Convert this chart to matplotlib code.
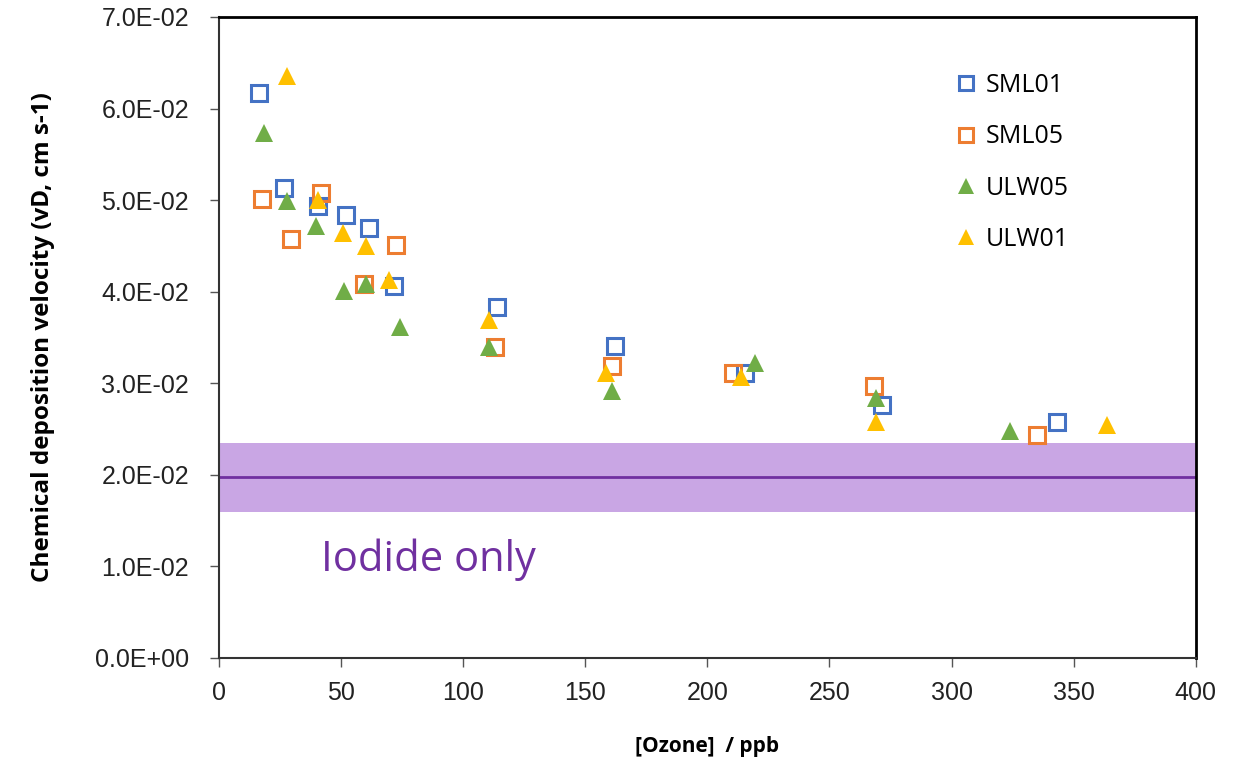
import matplotlib
matplotlib.use("Agg")
import matplotlib.pyplot as plt
from matplotlib.ticker import FuncFormatter

# [Ozone] / ppb and deposition velocity (cm s-1) per series
sml01_x = [16.4, 26.6, 40.5, 52.0, 61.4, 71.6, 113.8, 162.1, 215.4, 271.4, 343.1]
sml01_y = [0.0617, 0.0513, 0.0494, 0.0484, 0.0470, 0.0406, 0.0383, 0.0341, 0.0311, 0.0276, 0.0258]

sml05_x = [17.6, 29.5, 41.8, 59.4, 72.5, 113.0, 160.9, 210.4, 268.2, 334.9]
sml05_y = [0.0501, 0.0458, 0.0508, 0.0408, 0.0451, 0.0340, 0.0319, 0.0311, 0.0297, 0.0244]

ulw05_x = [18.4, 27.8, 39.7, 51.2, 60.2, 74.1, 110.5, 160.9, 219.4, 269.0, 323.9]
ulw05_y = [0.0573, 0.0499, 0.0472, 0.0401, 0.0408, 0.0361, 0.0340, 0.0292, 0.0322, 0.0284, 0.0248]

ulw01_x = [27.8, 40.5, 50.8, 60.2, 69.6, 110.5, 158.4, 213.7, 269.0, 363.6]
ulw01_y = [0.0636, 0.0500, 0.0464, 0.0450, 0.0413, 0.0369, 0.0311, 0.0307, 0.0258, 0.0254]

iodide_mean = 0.0198
iodide_low = 0.0159
iodide_high = 0.0235

fig = plt.figure(figsize=(12.43, 7.71), dpi=100)
ax = fig.add_axes([0.176, 0.1466, 0.786, 0.8314])

ax.axhspan(iodide_low, iodide_high, color="#c9a6e4", zorder=1, lw=0)
ax.axhline(iodide_mean, color="#7030a0", lw=2, zorder=2)
ax.text(42, 0.0107, "Iodide only", color="#7030a0", fontsize=30,
        family="Open Sans", va="center", ha="left")

sq = dict(marker="s", ls="none", markersize=11, markerfacecolor="none",
          markeredgewidth=2.2, zorder=3)
tri = dict(marker="^", ls="none", markersize=13, markeredgewidth=0, zorder=3)
ax.plot(sml01_x, sml01_y, markeredgecolor="#4472c4", label="SML01", **sq)
ax.plot(sml05_x, sml05_y, markeredgecolor="#ed7d31", label="SML05", **sq)
ax.plot(ulw05_x, ulw05_y, color="#70ad47", label="ULW05", **tri)
ax.plot(ulw01_x, ulw01_y, color="#ffc000", label="ULW01", **tri)

ax.set_xlim(0, 400)
ax.set_ylim(0, 0.07)
ax.set_xticks(range(0, 401, 50))
ax.set_yticks([i * 0.01 for i in range(8)])
ax.yaxis.set_major_formatter(FuncFormatter(
    lambda v, p: f"{v:.1E}" if v > 0 else "0.0E+00"))
ax.tick_params(direction="out", length=6.5, width=1, colors="#555555",
               labelsize=18, labelcolor="#222222")
ax.tick_params(axis="x", pad=10)
ax.tick_params(axis="y", pad=15)
for lab in ax.get_xticklabels() + ax.get_yticklabels():
    lab.set_family("Liberation Sans")

for side in ["top", "right"]:
    ax.spines[side].set_color("black")
    ax.spines[side].set_linewidth(2)
for side in ["left", "bottom"]:
    ax.spines[side].set_color("#333333")
    ax.spines[side].set_linewidth(1.5)

ax.set_xlabel("[Ozone]  / ppb", fontsize=15, fontweight="bold",
              family="Open Sans")
ax.xaxis.set_label_coords(0.5, -0.122)
ax.set_ylabel("Chemical deposition velocity (vD, cm s-1)", fontsize=17.5,
              fontweight="bold", family="Open Sans")
ax.yaxis.set_label_coords(-0.168, 0.5)

ax.legend(loc="upper left", bbox_to_anchor=(0.742, 0.928), frameon=False,
          prop={"family": "Open Sans", "size": 18}, labelspacing=1.05,
          handletextpad=0.3, handlelength=1.0, borderaxespad=0,
          markerscale=0.9)

fig.savefig("out.png", dpi=100)
